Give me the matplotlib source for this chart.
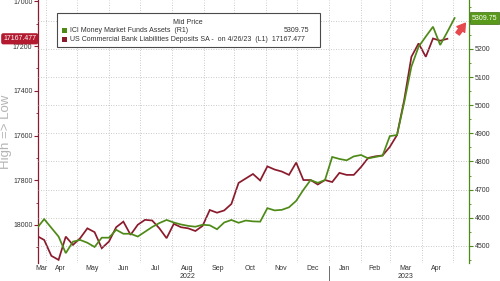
import matplotlib
matplotlib.use("Agg")
import matplotlib.pyplot as plt
import matplotlib.dates as mdates
import matplotlib.transforms as mtransforms
from matplotlib.patches import Rectangle
from matplotlib.ticker import MultipleLocator, FuncFormatter
import pandas as pd

plt.rcParams['font.family'] = ['Liberation Sans', 'DejaVu Sans']

# ---------------- data ----------------
mmf_dates = pd.date_range("2022-03-23", "2023-05-03", freq="7D")
mmf_assets = [4563, 4595, 4564, 4533, 4474, 4515, 4521, 4511, 4496, 4529,
              4529, 4557, 4543, 4543, 4533, 4550, 4567, 4581, 4592, 4583,
              4576, 4571, 4568, 4575, 4573, 4559, 4583, 4592, 4582, 4590,
              4587, 4586, 4634, 4626, 4628, 4637, 4660, 4699, 4734, 4724,
              4734, 4816, 4809, 4804, 4818, 4823, 4811, 4816, 4821, 4890,
              4894, 5010, 5137, 5208, 5244, 5279, 5214, 5261, 5309.75]

dep_dates = pd.date_range("2022-03-23", "2023-04-26", freq="7D")
deposits = [18049, 18067, 18138, 18156, 18052, 18089, 18059, 18015, 18032, 18104,
            18074, 18010, 17985, 18044, 17999, 17977, 17980, 18015, 18059, 17995,
            18010, 18015, 18027, 18004, 17933, 17945, 17935, 17906, 17812, 17792,
            17772, 17801, 17738, 17752, 17761, 17776, 17721, 17799, 17799, 17819,
            17799, 17808, 17767, 17776, 17776, 17741, 17700, 17693, 17689, 17651,
            17598, 17441, 17248, 17188, 17248, 17166, 17176, 17167.477]

month_label_dates = pd.to_datetime([
    "2022-03-27", "2022-04-15", "2022-05-16", "2022-06-15", "2022-07-16",
    "2022-08-16", "2022-09-15", "2022-10-16", "2022-11-15", "2022-12-16",
    "2023-01-16", "2023-02-14", "2023-03-16", "2023-04-15"])
month_labels = ["Mar", "Apr", "May", "Jun", "Jul", "Aug", "Sep", "Oct",
                "Nov", "Dec", "Jan", "Feb", "Mar", "Apr"]
year_label_dates = pd.to_datetime(["2022-08-16", "2023-03-16"])
year_labels = ["2022", "2023"]
year_sep_date = pd.Timestamp("2023-01-01")

legend_title = "Mid Price"
mmf_name = "ICI Money Market Funds Assets  (R1)"
dep_name = "US Commercial Bank Liabilities Deposits SA -  on 4/26/23  (L1)  17167.477"
mmf_last_label = "5309.75"
dep_last_label = "17167.477"
side_label = "High => Low"

# ---------------- styling ----------------
RED = "#8a1b2d"
GREEN = "#4e8a17"
RED_TAG = "#b3192f"
GREEN_TAG = "#5a9a1a"
TXT = "#333333"
GRID = "#b8b8b8"
FS = 5

W, H = 500, 281
fig = plt.figure(figsize=(5, 2.81), dpi=100)
fig.patch.set_facecolor("white")


def fx(px):
    return px / W


def fy(py):
    return 1 - py / H


ax = fig.add_axes([fx(38), fy(263), fx(469) - fx(38), fy(0) - fy(263)])
ax2 = ax.twinx()

ax.plot(dep_dates, deposits, color=RED, lw=1.25, zorder=3, solid_joinstyle="miter")
ax2.plot(mmf_dates, mmf_assets, color=GREEN, lw=1.25, zorder=3, solid_joinstyle="miter")

ax.set_xlim(pd.Timestamp("2022-03-24"), pd.Timestamp("2023-05-17"))
ax.set_ylim(18170, 16994)
ax2.set_ylim(4439, 5374)

# x axis
ax.xaxis.set_major_locator(mdates.MonthLocator())
ax.xaxis.set_major_formatter(plt.NullFormatter())
ax.set_xticks(mdates.date2num(month_label_dates), labels=month_labels, minor=True)
ax.tick_params(axis="x", which="both", length=0, pad=1.5, labelsize=FS, labelcolor=TXT)
ax.grid(axis="x", which="major", color=GRID, lw=0.6, linestyle=(0, (1, 2)))

# left y axis
ax.yaxis.set_major_locator(MultipleLocator(200))
ax.yaxis.set_minor_locator(MultipleLocator(100))
ax.tick_params(axis="y", which="major", direction="out", length=3, width=0.8,
               color=RED, labelsize=FS, labelcolor=TXT, pad=1)
ax.tick_params(axis="y", which="minor", direction="out", length=1.5, width=0.6, color=RED)

# right y axis (5300 label hidden behind the last-value tag in the reference)
ax2.yaxis.set_major_locator(MultipleLocator(100))
ax2.yaxis.set_minor_locator(MultipleLocator(50))
ax2.yaxis.set_major_formatter(FuncFormatter(lambda v, p: "" if v > 5250 else f"{v:.0f}"))
ax2.tick_params(axis="y", which="major", direction="out", length=3, width=0.8,
                color=GREEN, labelsize=FS, labelcolor=TXT, pad=1)
ax2.tick_params(axis="y", which="minor", direction="out", length=1.5, width=0.6, color=GREEN)
ax2.grid(axis="y", which="major", color=GRID, lw=0.6, linestyle=(0, (1, 2)))

for s in ["top", "right", "bottom"]:
    ax.spines[s].set_visible(False)
ax.spines["left"].set_color(RED)
ax.spines["left"].set_linewidth(0.9)
for s in ["top", "left", "bottom"]:
    ax2.spines[s].set_visible(False)
ax2.spines["right"].set_color(GREEN)
ax2.spines["right"].set_linewidth(0.9)

# year labels and separator
bt = mtransforms.blended_transform_factory(ax.transData, ax.transAxes)
for d, lab in zip(year_label_dates, year_labels):
    ax.text(d, -0.053, lab, transform=bt, ha="center", va="center",
            fontsize=FS, color=TXT)
ax.plot([year_sep_date, year_sep_date], [-0.012, -0.075], transform=bt,
        clip_on=False, color="#555555", lw=0.6)

# last value tags
tl = mtransforms.blended_transform_factory(ax.transAxes, ax.transData)
ax.text(-0.004, deposits[-1], dep_last_label, transform=tl, ha="right", va="center",
        fontsize=FS, color="white", zorder=20,
        bbox=dict(boxstyle="round,pad=0.3,rounding_size=0.3", fc=RED_TAG, ec="none"))
tr = mtransforms.blended_transform_factory(ax2.transAxes, ax2.transData)
ax2.text(1.006, mmf_assets[-1], mmf_last_label, transform=tr, ha="left", va="center",
         fontsize=FS, color="white", zorder=20,
         bbox=dict(boxstyle="square,pad=0.3", fc=GREEN_TAG, ec="#3f6e12", lw=0.5))

# red arrow icon
fig.add_artist(matplotlib.patches.FancyArrowPatch(
    (456, H - 36), (467, H - 21), transform=None,
    arrowstyle="simple,head_width=1.0,head_length=0.8,tail_width=0.45",
    mutation_scale=7, color="#e5484d", zorder=20))

# legend box
fig.add_artist(Rectangle((fx(57), fy(47)), fx(320) - fx(57), fy(13) - fy(47),
                         transform=fig.transFigure, fc="white", ec="#4a4a4a",
                         lw=0.8, zorder=10))
fig.text(fx(188), fy(22), legend_title, ha="center", va="center", fontsize=FS,
         color=TXT, zorder=11)
fig.add_artist(Rectangle((fx(62), fy(33)), fx(67) - fx(62), fy(28) - fy(33),
                         transform=fig.transFigure, fc=GREEN, ec="none", zorder=11))
fig.add_artist(Rectangle((fx(62), fy(42)), fx(67) - fx(62), fy(37) - fy(42),
                         transform=fig.transFigure, fc=RED, ec="none", zorder=11))
fig.text(fx(70), fy(30.5), mmf_name, ha="left", va="center", fontsize=FS,
         color=TXT, zorder=11)
fig.text(fx(309), fy(30.5), mmf_last_label, ha="right", va="center", fontsize=FS,
         color=TXT, zorder=11)
fig.text(fx(70), fy(39.5), dep_name, ha="left", va="center", fontsize=FS,
         color=TXT, zorder=11)

# side label
fig.text(fx(6.5), fy(132), side_label, rotation=90, ha="center", va="center",
         fontsize=9.5, color="#b4b4b4")

fig.savefig("out.png", dpi=100, facecolor="white")
